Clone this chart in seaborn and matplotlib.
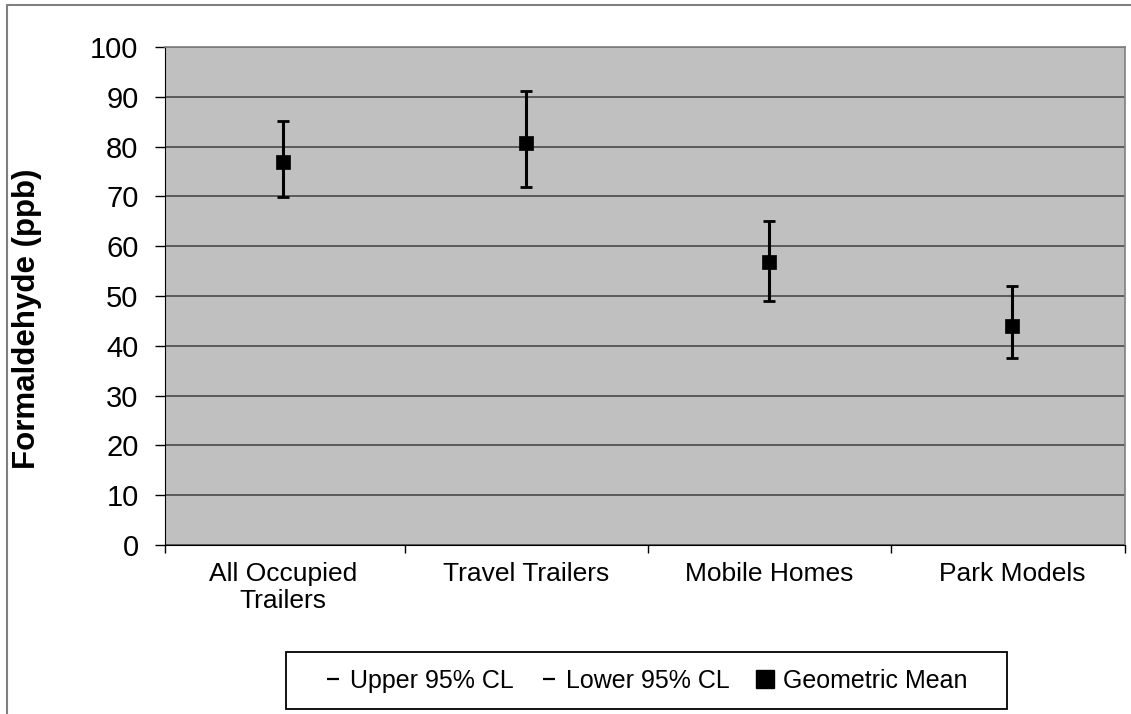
import pandas as pd
import matplotlib
matplotlib.use("Agg")
import matplotlib.pyplot as plt
import seaborn as sns
from matplotlib.lines import Line2D
from matplotlib.patches import Rectangle

# data
categories = ["All Occupied\nTrailers", "Travel Trailers", "Mobile Homes", "Park Models"]
geo_mean = [77.0, 80.7, 56.8, 44.0]
upper_cl = [85.1, 91.2, 65.1, 52.1]
lower_cl = [69.9, 71.9, 48.9, 37.6]

df = pd.DataFrame({"Category": categories, "Mean": geo_mean,
                   "Upper": upper_cl, "Lower": lower_cl})

sns.set_style("white")
plt.rcParams["font.family"] = ["Liberation Sans", "DejaVu Sans"]
plt.rcParams["text.color"] = "black"
plt.rcParams["axes.labelcolor"] = "black"
plt.rcParams["xtick.color"] = "black"
plt.rcParams["ytick.color"] = "black"

W, H = 1131, 714
fig = plt.figure(figsize=(W / 100, H / 100), dpi=100)
ax = fig.add_axes([165 / W, 1 - 545 / H, (1125 - 165) / W, (545 - 47) / H])
ax.set_facecolor("#c0c0c0")

# error bar stems
ax.vlines(range(len(categories)), df["Lower"], df["Upper"], color="black", lw=2.2, zorder=3)

# caps (upper / lower CL) and means
sns.scatterplot(data=df, x="Category", y="Upper", marker="_", s=80, color="black",
                linewidth=2.0, ax=ax, zorder=4)
sns.scatterplot(data=df, x="Category", y="Lower", marker="_", s=80, color="black",
                linewidth=2.0, ax=ax, zorder=4)
sns.scatterplot(data=df, x="Category", y="Mean", marker="s", s=112, color="black",
                edgecolor="black", linewidth=0.5, ax=ax, zorder=5)

ax.set_ylim(0, 100)
ax.set_xlim(-0.486, 3.465)
ax.set_yticks(range(0, 101, 10))
ax.yaxis.grid(True, color="#404040", lw=1.1)
ax.set_axisbelow(True)
ax.tick_params(axis="y", labelsize=21, direction="out", length=7, width=1, color="black",
               labelcolor="black", left=True, pad=12)
ax.tick_params(axis="x", labelsize=19, length=0, pad=12, labelcolor="black")
ax.set_xticks(range(len(categories)))
ax.set_xticklabels(categories, linespacing=1.15)
ax.set_xticks([-0.486, 0.5, 1.5, 2.5, 3.465], minor=True)
ax.tick_params(axis="x", which="minor", direction="out", length=6, width=1, color="black",
               bottom=True)
ax.set_xlabel("")
ax.set_ylabel("Formaldehyde (ppb)", fontsize=22.5, fontweight="bold", color="black")
ax.yaxis.set_label_coords((42 - 165) / 960, 0.454)

for side in ["top", "right"]:
    ax.spines[side].set_color("#808080")
    ax.spines[side].set_linewidth(1.2)
ax.spines["left"].set_color("black")
ax.spines["bottom"].set_color("black")

# outer chart border
fig.add_artist(Line2D([7 / W, 7 / W], [0, 1 - 5 / H], color="#808080", lw=1.5))
fig.add_artist(Line2D([7 / W, 1], [1 - 5 / H, 1 - 5 / H], color="#808080", lw=1.5))

# legend box
fig.add_artist(Rectangle((286 / W, 1 - 709 / H), (1007 - 286) / W, (709 - 652) / H,
                         transform=fig.transFigure, facecolor="white", edgecolor="black",
                         lw=1.3, zorder=1))

handles = [
    Line2D([], [], color="black", marker="_", ls="none", markersize=9, markeredgewidth=1.6),
    Line2D([], [], color="black", marker="_", ls="none", markersize=9, markeredgewidth=1.6),
    Line2D([], [], color="black", marker="s", ls="none", markersize=13),
]
leg = fig.legend(handles, ["Upper 95% CL", "Lower 95% CL", "Geometric Mean"],
                 loc="center", bbox_to_anchor=(645 / W, 1 - 681 / H), ncol=3,
                 fontsize=18, frameon=False, labelcolor="black",
                 handlelength=0.8, handletextpad=0.3, columnspacing=1.0,
                 borderpad=0.0, borderaxespad=0)
leg.set_zorder(2)

fig.savefig("out.png", dpi=100)
